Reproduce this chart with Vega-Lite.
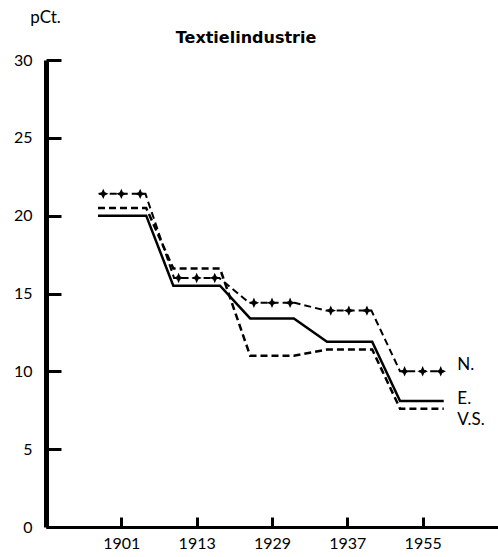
{
  "$schema": "https://vega.github.io/schema/vega-lite/v6.json",
  "width": 452,
  "height": 467,
  "autosize": {"type": "none"},
  "padding": {"left": 46, "top": 60, "right": 0, "bottom": 30},
  "background": "white",
  "title": {"text": "Textielindustrie", "font": "DejaVu Sans", "fontSize": 16, "fontWeight": "bold", "anchor": "middle", "dx": -26, "offset": 0, "dy": 38, "color": "black"},
  "config": {
    "view": {"stroke": null},
    "axis": {"labelFont": "Lato", "titleFont": "Lato", "labelColor": "black", "titleColor": "black", "domainColor": "black", "tickColor": "black", "grid": false}
  },
  "datasets": {
    "lines": [
      {"series": "N.", "year": 1901, "t": 0.7, "v": 21.4},
      {"series": "N.", "year": 1901, "t": 1.32, "v": 21.4},
      {"series": "N.", "year": 1913, "t": 1.7, "v": 16.0},
      {"series": "N.", "year": 1913, "t": 2.3, "v": 16.0},
      {"series": "N.", "year": 1929, "t": 2.7, "v": 14.4},
      {"series": "N.", "year": 1929, "t": 3.3, "v": 14.4},
      {"series": "N.", "year": 1937, "t": 3.72, "v": 13.9},
      {"series": "N.", "year": 1937, "t": 4.32, "v": 13.9},
      {"series": "N.", "year": 1955, "t": 4.7, "v": 10.0},
      {"series": "N.", "year": 1955, "t": 5.28, "v": 10.0},
      {"series": "E.", "year": 1901, "t": 0.69, "v": 20.0},
      {"series": "E.", "year": 1901, "t": 1.33, "v": 20.0},
      {"series": "E.", "year": 1913, "t": 1.69, "v": 15.5},
      {"series": "E.", "year": 1913, "t": 2.31, "v": 15.5},
      {"series": "E.", "year": 1929, "t": 2.71, "v": 13.4},
      {"series": "E.", "year": 1929, "t": 3.29, "v": 13.4},
      {"series": "E.", "year": 1937, "t": 3.73, "v": 11.9},
      {"series": "E.", "year": 1937, "t": 4.33, "v": 11.9},
      {"series": "E.", "year": 1955, "t": 4.7, "v": 8.1},
      {"series": "E.", "year": 1955, "t": 5.28, "v": 8.1},
      {"series": "V.S.", "year": 1901, "t": 0.69, "v": 20.5},
      {"series": "V.S.", "year": 1901, "t": 1.33, "v": 20.5},
      {"series": "V.S.", "year": 1913, "t": 1.69, "v": 16.6},
      {"series": "V.S.", "year": 1913, "t": 2.31, "v": 16.6},
      {"series": "V.S.", "year": 1929, "t": 2.71, "v": 11.0},
      {"series": "V.S.", "year": 1929, "t": 3.29, "v": 11.0},
      {"series": "V.S.", "year": 1937, "t": 3.73, "v": 11.4},
      {"series": "V.S.", "year": 1937, "t": 4.33, "v": 11.4},
      {"series": "V.S.", "year": 1955, "t": 4.7, "v": 7.6},
      {"series": "V.S.", "year": 1955, "t": 5.28, "v": 7.6}
    ],
    "crosses": [
      {"year": 1901, "t": 0.76, "v": 21.4},
      {"year": 1901, "t": 1.0, "v": 21.4},
      {"year": 1901, "t": 1.25, "v": 21.4},
      {"year": 1913, "t": 1.76, "v": 16.0},
      {"year": 1913, "t": 2.0, "v": 16.0},
      {"year": 1913, "t": 2.24, "v": 16.0},
      {"year": 1929, "t": 2.76, "v": 14.4},
      {"year": 1929, "t": 3.0, "v": 14.4},
      {"year": 1929, "t": 3.24, "v": 14.4},
      {"year": 1937, "t": 3.78, "v": 13.9},
      {"year": 1937, "t": 4.02, "v": 13.9},
      {"year": 1937, "t": 4.26, "v": 13.9},
      {"year": 1955, "t": 4.76, "v": 10.0},
      {"year": 1955, "t": 5.0, "v": 10.0},
      {"year": 1955, "t": 5.24, "v": 10.0}
    ],
    "labels": [
      {"label": "N.", "t": 5.46, "v": 10.4},
      {"label": "E.", "t": 5.46, "v": 8.25},
      {"label": "V.S.", "t": 5.46, "v": 6.85}
    ]
  },
  "encoding": {
    "x": {
      "field": "t", "type": "quantitative",
      "scale": {"domain": [0, 6], "nice": false, "zero": false},
      "axis": {"values": [1, 2, 3, 4, 5], "labelExpr": "['', '1901', '1913', '1929', '1937', '1955'][datum.value]", "title": null, "domainWidth": 3, "tickSize": -10, "tickWidth": 3, "labelFontSize": 16, "labelPadding": 18}
    },
    "y": {
      "field": "v", "type": "quantitative",
      "scale": {"domain": [0, 30], "nice": false},
      "axis": {"values": [0, 5, 10, 15, 20, 25, 30], "title": "pCt.", "titleAngle": 0, "titleAlign": "center", "titleBaseline": "alphabetic", "titleX": -1, "titleY": -38, "titleFontSize": 17, "titleFontWeight": "normal", "domainWidth": 5, "tickSize": -15, "tickWidth": 3, "labelFontSize": 16, "labelPadding": 29}
    }
  },
  "layer": [
    {
      "data": {"name": "lines"},
      "transform": [{"filter": "datum.series === 'E.'"}],
      "mark": {"type": "line", "color": "black", "strokeWidth": 2.5},
      "encoding": {"order": {"field": "t"}}
    },
    {
      "data": {"name": "lines"},
      "transform": [{"filter": "datum.series === 'V.S.'"}],
      "mark": {"type": "line", "color": "black", "strokeWidth": 2.5, "strokeDash": [7, 4]},
      "encoding": {"order": {"field": "t"}}
    },
    {
      "data": {"name": "lines"},
      "transform": [{"filter": "datum.series === 'N.'"}],
      "mark": {"type": "line", "color": "black", "strokeWidth": 2, "strokeDash": [7, 4]},
      "encoding": {"order": {"field": "t"}}
    },
    {
      "data": {"name": "crosses"},
      "mark": {"type": "point", "shape": "M0,-1L0.3,-0.3L1,0L0.3,0.3L0,1L-0.3,0.3L-1,0L-0.3,-0.3Z", "filled": true, "color": "black", "size": 110, "opacity": 1}
    },
    {
      "data": {"name": "labels"},
      "mark": {"type": "text", "align": "left", "baseline": "middle", "font": "Lato", "fontSize": 17, "color": "black"},
      "encoding": {"text": {"field": "label"}}
    }
  ]
}
